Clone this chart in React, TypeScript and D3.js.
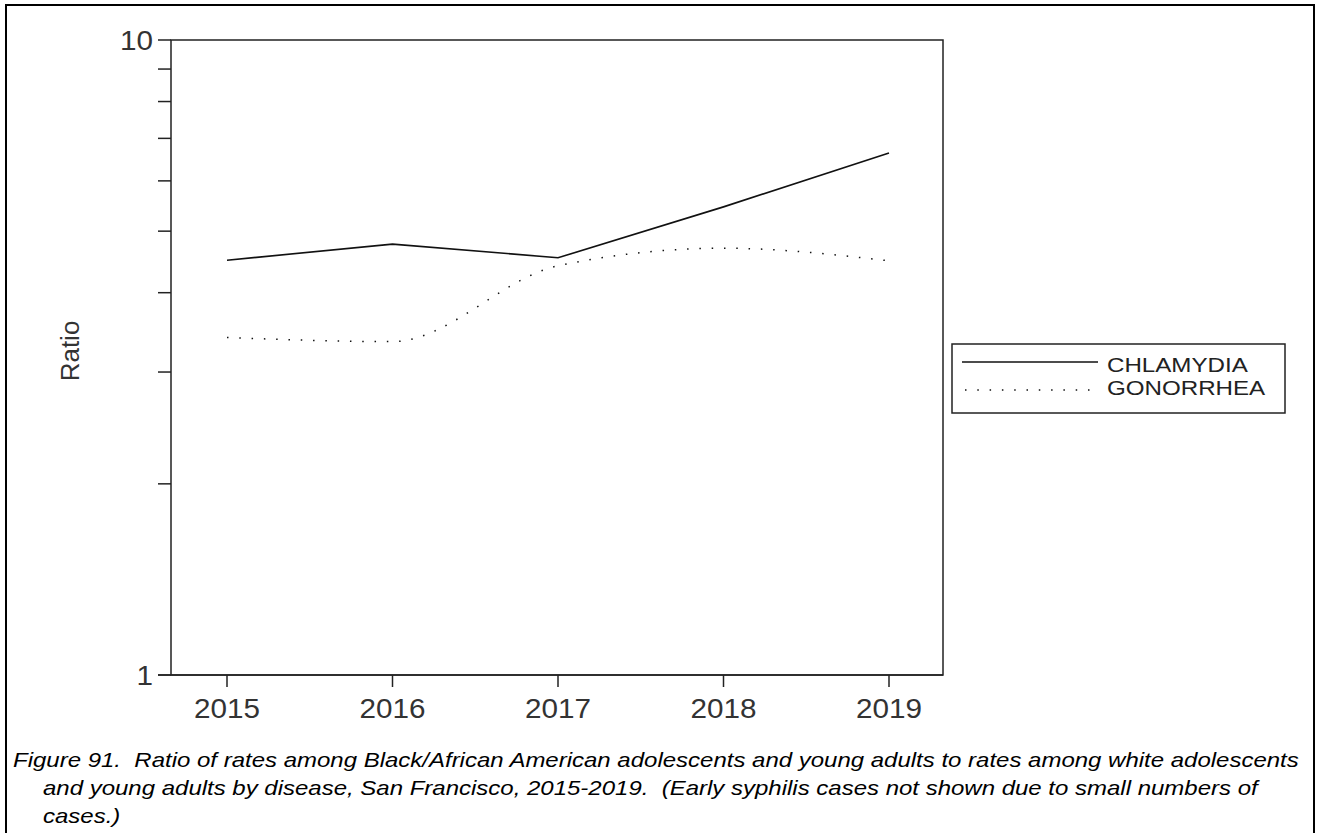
import React from "react";
import * as d3 from "d3";

const years = ["2015", "2016", "2017", "2018", "2019"];
const chlamydia = [4.5, 4.77, 4.54, 5.46, 6.64];
const gonorrhea = [3.4, 3.35, 4.41, 4.7, 4.49];
const yTickLabels = [1, 10];
const yMinorTicks = [2, 3, 4, 5, 6, 7, 8, 9];
const legendItems = ["CHLAMYDIA", "GONORRHEA"];
const captionLines = [
  "Figure 91.  Ratio of rates among Black/African American adolescents and young adults to rates among white adolescents",
  "and young adults by disease, San Francisco, 2015-2019.  (Early syphilis cases not shown due to small numbers of",
  "cases.)",
];

const FONT = "'Liberation Sans', Arial, sans-serif";
const INK = "#222";

export default function App() {
  const left = 171, right = 943, top = 40, bottom = 675;
  const x = d3.scalePoint<string>().domain(years).range([227, 889]);
  const y = d3.scaleLog().domain([1, 10]).range([bottom, top]);

  const solid = d3
    .line<number>()
    .x((_, i) => x(years[i]) as number)
    .y((d) => y(d));
  const smooth = d3
    .line<number>()
    .x((_, i) => x(years[i]) as number)
    .y((d) => y(d))
    .curve(d3.curveMonotoneX);

  return (
    <svg
      width={1320}
      height={833}
      style={{ position: "absolute", left: 0, top: 0, background: "#fff" }}
      fontFamily={FONT}
    >
      <rect x={0} y={0} width={1320} height={833} fill="#fff" />
      {/* outer border */}
      <rect x={6} y={5} width={1308} height={840} fill="none" stroke="#000" strokeWidth={2} />

      {/* plot frame */}
      <rect x={left} y={top} width={right - left} height={bottom - top} fill="none" stroke={INK} strokeWidth={1.5} />
      <line x1={158} x2={right} y1={bottom} y2={bottom} stroke={INK} strokeWidth={1.5} />
      {years.map((yr) => (
        <g key={yr}>
          <line x1={x(yr)} x2={x(yr)} y1={bottom} y2={bottom + 12} stroke={INK} strokeWidth={1.5} />
          <text
            transform={`translate(${x(yr)}, 718) scale(1.06, 1)`}
            textAnchor="middle"
            fontSize={28}
            fill="#333"
          >
            {yr}
          </text>
        </g>
      ))}
      {yTickLabels.map((v) => (
        <g key={v}>
          <line x1={158} x2={left} y1={y(v)} y2={y(v)} stroke={INK} strokeWidth={1.5} />
          <text
            transform={`translate(153, ${y(v)}) scale(1.06, 1)`}
            dy="0.36em"
            textAnchor="end"
            fontSize={28}
            fill="#333"
          >
            {v}
          </text>
        </g>
      ))}
      {yMinorTicks.map((v) => (
        <line key={v} x1={158} x2={left} y1={y(v)} y2={y(v)} stroke={INK} strokeWidth={1.5} />
      ))}
      <text
        transform={`translate(79, 351) rotate(-90)`}
        textAnchor="middle"
        fontSize={26}
        fill="#333"
      >
        Ratio
      </text>

      {/* series */}
      <path d={solid(chlamydia) || ""} fill="none" stroke="#111" strokeWidth={1.6} />
      <path
        d={smooth(gonorrhea) || ""}
        fill="none"
        stroke="#111"
        strokeWidth={1.5}
        strokeDasharray="1.5,10.8"
      />

      {/* legend */}
      <rect x={952} y={344} width={333} height={69} fill="none" stroke={INK} strokeWidth={1.5} />
      <line x1={962} x2={1098} y1={362} y2={362} stroke="#111" strokeWidth={1.5} />
      <line x1={965} x2={1098} y1={390} y2={390} stroke="#111" strokeWidth={1.5} strokeDasharray="1.5,10.8" />
      {legendItems.map((t, i) => (
        <text
          key={t}
          transform={`translate(1107, ${372 + i * 23}) scale(1.15, 1)`}
          fontSize={21}
          fill="#222"
        >
          {t}
        </text>
      ))}

      {/* caption */}
      {captionLines.map((t, i) => (
        <text
          key={i}
          transform={`translate(${i === 0 ? 13 : 43}, ${767 + i * 28}) scale(1.2, 1)`}
          fontSize={20}
          fontStyle="italic"
          fill="#000"
          style={{ whiteSpace: "pre" }}
        >
          {t}
        </text>
      ))}
    </svg>
  );
}
